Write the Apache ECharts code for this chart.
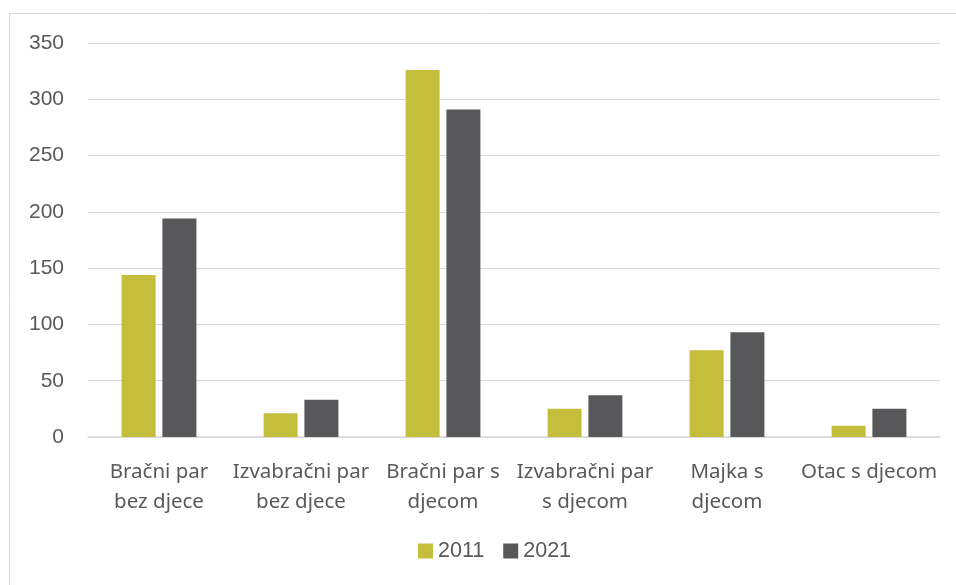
<!DOCTYPE html>
<html>
<head>
<meta charset="utf-8">
<script src="https://cdn.jsdelivr.net/npm/echarts@6/dist/echarts.min.js"></script>
<style>
  html, body { margin: 0; padding: 0; background: #fff; }
  #myChart { width: 956px; height: 585px; }
</style>
</head>
<body>
<div id="myChart"></div>
<script>
// kategorije i vrijednosti
const categories = ['Bračni par\nbez djece', 'Izvabračni par\nbez djece', 'Bračni par s\ndjecom', 'Izvabračni par\ns djecom', 'Majka s\ndjecom', 'Otac s djecom'];
const data2011 = [144, 21, 326, 25, 77, 10];
const data2021 = [194, 33, 291, 37, 93, 25];
const yTicks = { min: 0, max: 350, interval: 50 };

let Chart = echarts.init(document.getElementById('myChart'));
Chart.setOption({
  animation: false,
  graphic: [{
    type: 'rect',
    shape: { x: 9.5, y: 13.5, width: 1000, height: 700 },
    style: { fill: 'none', stroke: '#d9d9d9', lineWidth: 1 },
    silent: true
  }],
  grid: { left: 88, right: 16, top: 43, bottom: 148 },
  legend: {
    data: ['2011', '2021'],
    bottom: 18,
    left: 413,
    itemWidth: 15,
    itemHeight: 15,
    itemGap: 19,
    icon: 'rect',
    textStyle: { fontFamily: 'Liberation Sans', fontSize: 21.5, color: '#595959' }
  },
  xAxis: {
    type: 'category',
    data: categories,
    axisLine: { lineStyle: { color: '#d9d9d9', width: 1.5 } },
    axisTick: { show: false },
    axisLabel: {
      interval: 0,
      margin: 20,
      fontFamily: 'Noto Sans',
      fontSize: 20.5,
      lineHeight: 30,
      color: '#595959'
    }
  },
  yAxis: {
    type: 'value',
    min: yTicks.min,
    max: yTicks.max,
    interval: yTicks.interval,
    axisLine: { show: false },
    axisTick: { show: false },
    splitLine: { lineStyle: { color: '#d9d9d9', width: 1 } },
    axisLabel: {
      margin: 24,
      fontFamily: 'Liberation Sans',
      fontSize: 21,
      color: '#595959'
    }
  },
  series: [
    {
      name: '2011',
      type: 'bar',
      data: data2011,
      barWidth: 34,
      barGap: '20%',
      itemStyle: { color: '#c5be3c' }
    },
    {
      name: '2021',
      type: 'bar',
      data: data2021,
      barWidth: 34,
      itemStyle: { color: '#58585a' }
    }
  ]
});
</script>
</body>
</html>
